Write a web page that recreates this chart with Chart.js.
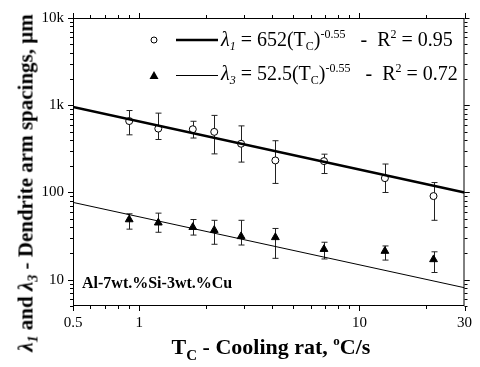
<!DOCTYPE html>
<html>
<head>
<meta charset="utf-8">
<script src="https://cdn.jsdelivr.net/npm/chart.js@4.4.1/dist/chart.umd.min.js"></script>
<style>
  html, body { margin: 0; padding: 0; background: #fff; }
  #wrap { position: relative; width: 480px; height: 367px; font-family: 'Liberation Serif', 'Times New Roman', serif; color: #000; }
  #chart { position: absolute; left: 0; top: 0; }
  .txt { position: absolute; white-space: nowrap; line-height: 1; }
  .legend { font-size: 20px; }
  .legend sub, .legend sup { font-size: 12px; line-height: 0; }
  .legend sup { vertical-align: 8px; }
  .legend sub { vertical-align: -4px; }
  i sub { font-style: italic; }
  #xtitle { font-size: 22px; font-weight: bold; left: 271px; top: 336px; transform: translateX(-50%); }
  #xtitle sub, #xtitle sup { line-height: 0; }
  #xtitle sub { font-size: 15px; vertical-align: -6px; }
  #xtitle sup { font-size: 13px; vertical-align: 9px; }
  #ytitle { font-size: 21px; font-weight: bold; left: 26px; top: 183px; transform: translate(-50%, -50%) rotate(-90deg); }
  #ytitle sub { font-size: 14px; line-height: 0; vertical-align: -5px; }
  #alloy { font-size: 16px; font-weight: bold; left: 82px; top: 275px; }
</style>
</head>
<body>
<div id="wrap">
  <canvas id="chart" width="480" height="367"></canvas>
  <div class="txt legend" style="left:221px; top:29px;"><i>λ<sub>1</sub></i> = 652(T<sub>C</sub>)<sup>-0.55</sup>&nbsp;&nbsp; -&nbsp; R<sup>2</sup> = 0.95</div>
  <div class="txt legend" style="left:221px; top:63px;"><i>λ<sub>3</sub></i> = 52.5(T<sub>C</sub>)<sup>-0.55</sup>&nbsp;&nbsp; -&nbsp; R<sup>2</sup> = 0.72</div>
  <div class="txt" id="alloy">Al-7wt.%Si-3wt.%Cu</div>
  <div class="txt" id="xtitle">T<sub>C</sub> - Cooling rat, <sup>o</sup>C/s</div>
  <div class="txt" id="ytitle"><i>λ<sub>1</sub></i> and <i>λ<sub>3</sub></i> - Dendrite arm spacings, μm</div>
</div>
<script>
// --- Data ---
const coolingRates = [0.9, 1.22, 1.75, 2.19, 2.9, 4.15, 6.9, 13.05, 21.7];

const lambda1 = [659, 540, 531, 495, 362, 233, 229, 146, 91];
const lambda1Hi = [870, 812, 655, 765, 580, 392, 275, 212, 130];
const lambda1Lo = [458, 405, 421, 277, 223, 127, 165, 100, 48];

const lambda3 = [49, 45, 40, 37, 31.4, 30.6, 22.4, 21.3, 17.1];
const lambda3Hi = [57, 58, 49, 48, 48, 38.7, 26.9, 24.4, 20.9];
const lambda3Lo = [38, 35, 32.5, 25.5, 25, 17.6, 17.3, 16.8, 12.1];

// power-law fit lines, end points
const fitX = [0.5, 30];
const fit1Y = [955, 100];
const fit3Y = [77, 8.1];

const xTickValues = [0.5, 1, 10, 30];
const xTickLabels = ['0.5', '1', '10', '30'];
const yTickValues = [10, 100, 1000, 10000];
const yTickLabels = ['10', '100', '1k', '10k'];

const toPoints = (xs, ys) => xs.map((x, i) => ({ x, y: ys[i] }));

// --- Error bars, drawn under the markers ---
const errorBars = {
  id: 'errorBars',
  beforeDatasetsDraw(chart) {
    const { ctx, scales: { x, y } } = chart;
    ctx.save();
    ctx.strokeStyle = '#222';
    ctx.lineWidth = 1;
    chart.data.datasets.forEach(ds => {
      if (!ds.errHi) return;
      ds.data.forEach((p, i) => {
        const px = Math.round(x.getPixelForValue(p.x)) + 0.5;
        const top = y.getPixelForValue(ds.errHi[i]);
        const bot = y.getPixelForValue(ds.errLo[i]);
        ctx.beginPath();
        ctx.moveTo(px, top); ctx.lineTo(px, bot);
        ctx.moveTo(px - 3, top); ctx.lineTo(px + 3, top);
        ctx.moveTo(px - 3, bot); ctx.lineTo(px + 3, bot);
        ctx.stroke();
      });
    });
    ctx.restore();
  }
};

// --- Frame, mirrored log ticks and legend symbols ---
const frame = {
  id: 'frame',
  afterDraw(chart) {
    const { ctx, chartArea: a, scales: { x, y } } = chart;
    ctx.save();
    ctx.strokeStyle = '#000';
    ctx.lineWidth = 1;
    ctx.strokeRect(a.left + 0.5, a.top + 0.5, a.right - a.left - 1, a.bottom - a.top - 1);

    ctx.beginPath();
    for (let d = 0.1; d <= 10; d *= 10) {
      for (let m = 1; m <= 9; m++) {
        const v = m * d;
        if (v < 0.5 - 1e-9 || v > 30 + 1e-9) continue;
        const px = Math.round(x.getPixelForValue(v)) + 0.5;
        const len = (m === 1 || v === 0.5 || Math.abs(v - 30) < 1e-6) ? 5 : 3;
        ctx.moveTo(px, a.bottom); ctx.lineTo(px, a.bottom + len);
        ctx.moveTo(px, a.top); ctx.lineTo(px, a.top - len);
      }
    }
    for (let d = 1; d <= 1000; d *= 10) {
      for (let m = 1; m <= 10; m++) {
        const v = m * d;
        if (v < 5 || v > 10000) continue;
        const py = Math.round(y.getPixelForValue(v)) + 0.5;
        const len = (m === 1 || m === 10) ? 5 : 3;
        ctx.moveTo(a.left, py); ctx.lineTo(a.left - len, py);
        ctx.moveTo(a.right, py); ctx.lineTo(a.right + len, py);
      }
    }
    ctx.stroke();

    // legend symbols
    ctx.beginPath();
    ctx.arc(154, 40, 3, 0, Math.PI * 2);
    ctx.fillStyle = '#fff';
    ctx.fill();
    ctx.stroke();
    ctx.lineWidth = 2.5;
    ctx.beginPath(); ctx.moveTo(176, 40); ctx.lineTo(218, 40); ctx.stroke();
    ctx.lineWidth = 1;
    ctx.beginPath(); ctx.moveTo(176, 75.5); ctx.lineTo(218, 75.5); ctx.stroke();
    ctx.fillStyle = '#000';
    ctx.beginPath();
    ctx.moveTo(154, 71); ctx.lineTo(158.5, 79); ctx.lineTo(149.5, 79);
    ctx.closePath();
    ctx.fill();
    ctx.restore();
  }
};

const tickFont = { family: "'Liberation Serif', serif", size: 15 };

new Chart(document.getElementById('chart'), {
  type: 'scatter',
  data: {
    datasets: [
      {
        type: 'line',
        data: toPoints(fitX, fit1Y),
        borderColor: '#000',
        borderWidth: 2.5,
        pointRadius: 0,
      },
      {
        type: 'line',
        data: toPoints(fitX, fit3Y),
        borderColor: '#000',
        borderWidth: 1,
        pointRadius: 0,
      },
      {
        data: toPoints(coolingRates, lambda1),
        errHi: lambda1Hi,
        errLo: lambda1Lo,
        pointStyle: 'circle',
        pointRadius: 3.5,
        pointBackgroundColor: '#fff',
        pointBorderColor: '#000',
        pointBorderWidth: 1,
      },
      {
        data: toPoints(coolingRates, lambda3),
        errHi: lambda3Hi,
        errLo: lambda3Lo,
        pointStyle: 'triangle',
        pointRadius: 4.5,
        pointBackgroundColor: '#000',
        pointBorderColor: '#000',
        pointBorderWidth: 1,
      },
    ],
  },
  options: {
    responsive: false,
    animation: false,
    events: [],
    layout: { padding: { left: 0, right: 13, top: 16, bottom: 0 } },
    plugins: { legend: { display: false }, tooltip: { enabled: false } },
    scales: {
      x: {
        type: 'logarithmic',
        min: 0.5,
        max: 30,
        afterBuildTicks: s => { s.ticks = xTickValues.map(v => ({ value: v })); },
        afterFit: s => { s.height = 61; },
        grid: { display: false, drawTicks: false },
        border: { display: false },
        ticks: {
          color: '#000',
          font: tickFont,
          padding: 8,
          autoSkip: false,
          maxRotation: 0,
          callback: (v, i) => xTickLabels[i],
        },
      },
      y: {
        type: 'logarithmic',
        min: 5,
        max: 10000,
        afterBuildTicks: s => { s.ticks = yTickValues.map(v => ({ value: v })); },
        afterFit: s => { s.width = 73; },
        grid: { display: false, drawTicks: false },
        border: { display: false },
        ticks: {
          color: '#000',
          font: tickFont,
          padding: 9,
          autoSkip: false,
          callback: (v, i) => yTickLabels[i],
        },
      },
    },
  },
  plugins: [errorBars, frame],
});
</script>
</body>
</html>
